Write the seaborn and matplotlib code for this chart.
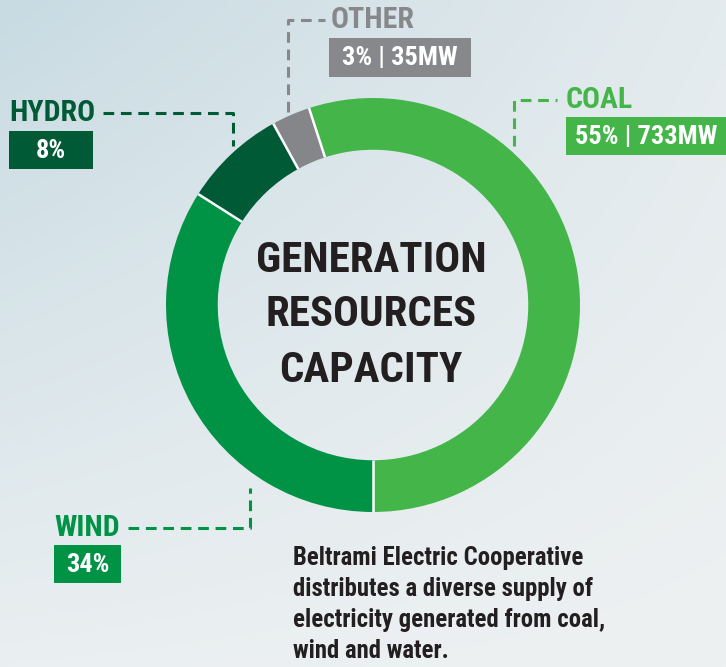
import numpy as np
import matplotlib
matplotlib.use('Agg')
import matplotlib.pyplot as plt
import seaborn as sns
from matplotlib import font_manager
from matplotlib.lines import Line2D
from matplotlib.patches import Rectangle

# ---- data ----
categories = ['COAL', 'WIND', 'HYDRO', 'OTHER']
shares = [55, 34, 8, 3]
box_labels = ['55% | 733MW', '34%', '8%', '3% | 35MW']
colors = ['#43b549', '#009245', '#005a36', '#848689']
title_lines = ['GENERATION', 'RESOURCES', 'CAPACITY']
description = ['Beltrami Electric Cooperative',
               'distributes a diverse supply of',
               'electricity generated from coal,',
               'wind and water.']

sns.set_theme(style='white')
avail = {f.name for f in font_manager.fontManager.ttflist}
cond = next((f for f in ['Roboto Condensed', 'Liberation Sans Narrow'] if f in avail), 'DejaVu Sans')
plt.rcParams['font.family'] = [cond, 'DejaVu Sans']

W, H = 726, 667
fig = plt.figure(figsize=(W / 100, H / 100), dpi=100)

# background gradient
bg = fig.add_axes([0, 0, 1, 1])
bg.axis('off')
ny, nx = 100, 100
yy, xx = np.mgrid[0:1:ny * 1j, 0:1:nx * 1j]
TL = np.array([200, 219, 226]); TR = np.array([228, 235, 238])
BL = np.array([234, 239, 241]); BR = np.array([238, 241, 242])
img = ((1 - xx)[..., None] * (1 - yy)[..., None] * TL + xx[..., None] * (1 - yy)[..., None] * TR
       + (1 - xx)[..., None] * yy[..., None] * BL + xx[..., None] * yy[..., None] * BR) / 255
bg.imshow(img, aspect='auto', extent=[0, 1, 0, 1], interpolation='bilinear')
bg.set_xlim(0, 1); bg.set_ylim(0, 1)


def fx(x):
    return x / W


def fy(y):
    return 1 - y / H


cx, cy, R = 373, 305, 207
ring = 0.25
start = 108
ax = fig.add_axes([fx(cx - R), fy(cy + R), 2 * R / W, 2 * R / H])
ax.pie(shares, colors=colors, startangle=start, counterclock=False, radius=1,
       wedgeprops=dict(width=ring, edgecolor='none', linewidth=0))
# white separators between segments
bounds = start - 360 * np.cumsum([0] + shares[:-1]) / sum(shares)
for a in np.deg2rad(bounds):
    ax.plot([(1 - ring) * np.cos(a), 1.0 * np.cos(a)],
            [(1 - ring) * np.sin(a), 1.0 * np.sin(a)], color='white', lw=1.8,
            solid_capstyle='butt')
ax.set_xlim(-1, 1); ax.set_ylim(-1, 1)
ax.set_aspect('auto')
ax.axis('off')

# centre title
for i, t in enumerate(title_lines):
    fig.text(fx(cx - 2), fy(260 + i * 55), t, ha='center', va='center', fontsize=31,
             fontweight='bold', color='#231f20', fontstretch='condensed')

# description
for i, t in enumerate(description):
    fig.text(fx(293), fy(558 + i * 31), t, ha='left', va='center', fontsize=17.8,
             fontweight='bold', color='#231f20', fontstretch='condensed')


def dashed(pts, color):
    xs = [fx(p[0]) for p in pts]
    ys = [fy(p[1]) for p in pts]
    fig.add_artist(Line2D(xs, ys, transform=fig.transFigure, color=color, lw=2.2,
                          dashes=(3.5, 2.2), solid_capstyle='butt', dash_capstyle='butt'))


def label(name, box, color, name_xy, box_rect, ha='left'):
    fig.text(fx(name_xy[0]), fy(name_xy[1]), name, ha=ha, va='center', fontsize=21.5,
             fontweight='bold', color=color, fontstretch='condensed')
    x0, y0, x1, y1 = box_rect
    fig.add_artist(Rectangle((fx(x0), fy(y1)), (x1 - x0) / W, (y1 - y0) / H,
                             transform=fig.transFigure, color=color, lw=0))
    fig.text(fx((x0 + x1) / 2), fy((y0 + y1) / 2 + 1), box, ha='center', va='center',
             fontsize=19, fontweight='bold', color='white', fontstretch='condensed')


lab_colors = dict(zip(categories, colors))
other_gray = '#87888b'
# OTHER
dashed([(288, 112), (288, 20), (325, 20)], other_gray)
label('OTHER', box_labels[3], other_gray, (331, 20), (329, 38, 471, 77))
# HYDRO
dashed([(103, 113), (233, 113), (233, 146)], lab_colors['HYDRO'])
label('HYDRO', box_labels[2], lab_colors['HYDRO'], (9, 113), (9, 131, 93, 169))
# COAL
dashed([(514, 146), (514, 100), (557, 100)], lab_colors['COAL'])
label('COAL', box_labels[0], lab_colors['COAL'], (566, 100), (566, 117, 726, 155))
# WIND
dashed([(128, 528), (250, 528), (250, 488)], lab_colors['WIND'])
label('WIND', box_labels[1], lab_colors['WIND'], (54, 528), (54, 545, 121, 583))

fig.savefig('out.png', dpi=100)
